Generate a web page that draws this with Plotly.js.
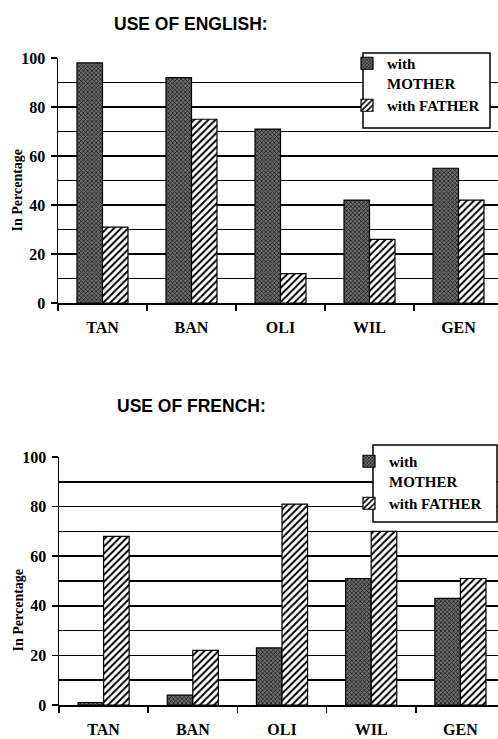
<!DOCTYPE html>
<html><head><meta charset="utf-8">
<script src="https://cdn.plot.ly/plotly-3.0.1.min.js"></script>
<style>html,body{margin:0;padding:0;overflow:hidden;background:#fff}#chart{width:505px;height:739px}</style>
</head><body><div id="chart"></div>
<script>
const categories = ['TAN','BAN','OLI','WIL','GEN'];
const englishMother = [98,92,71,42,55];
const englishFather = [31,75,12,26,42];
const frenchMother = [1,4,23,51,43];
const frenchFather = [68,22,81,70,51];
const seriesNames = ['with<br>MOTHER','with FATHER'];
const chartTitles = ['USE OF ENGLISH:','USE OF FRENCH:'];
const yTitle = 'In Percentage';

const W = 505, H = 739, L = 58;
const px = p => (p - L) / (W - L);
const py = p => 1 - p / H;
const serif = {family:'Liberation Serif, Times New Roman, serif', size:16, color:'#000', weight:'bold'};
const legendFont = {family:'Liberation Serif, Times New Roman, serif', size:15, color:'#000', weight:'bold'};

const motherMarker = {color:'#555', line:{color:'#000', width:1.2},
  pattern:{shape:'x', size:3, solidity:0.35, fgcolor:'#000', bgcolor:'#6e6e6e', fillmode:'replace'}};
const fatherMarker = {color:'#fff', line:{color:'#000', width:1.2},
  pattern:{shape:'/', size:5, solidity:0.4, fgcolor:'#000', bgcolor:'#fff', fillmode:'replace'}};

const traces = [
  {type:'bar', x:categories, y:englishMother, name:seriesNames[0], marker:motherMarker, xaxis:'x', yaxis:'y', legend:'legend'},
  {type:'bar', x:categories, y:englishFather, name:seriesNames[1], marker:fatherMarker, xaxis:'x', yaxis:'y', legend:'legend'},
  {type:'bar', x:categories, y:frenchMother, name:seriesNames[0], marker:motherMarker, xaxis:'x2', yaxis:'y2', legend:'legend2'},
  {type:'bar', x:categories, y:frenchFather, name:seriesNames[1], marker:fatherMarker, xaxis:'x2', yaxis:'y2', legend:'legend2'}
];

function xax(domain, anchor){
  return {domain:domain, anchor:anchor, type:'category', tickson:'boundaries', ticks:'outside', ticklen:6, tickwidth:1.5,
    tickcolor:'#000', showline:true, linecolor:'#000', linewidth:2, showgrid:false, tickfont:serif,
    ticklabelstandoff:9, fixedrange:true, automargin:false};
}
function yax(domain, anchor){
  return {domain:domain, anchor:anchor, range:[0,100], dtick:20, ticks:'outside', ticklen:6, tickwidth:1.5, tickcolor:'#000',
    showline:true, linecolor:'#000', linewidth:1.5, showgrid:true, gridcolor:'#000', gridwidth:1.5, zeroline:false,
    minor:{dtick:10, showgrid:true, gridcolor:'#000', gridwidth:1.5, ticks:''},
    tickfont:serif, ticklabelstandoff:2, fixedrange:true, automargin:false};
}

const legendBase = {xref:'paper', yref:'paper', xanchor:'left', yanchor:'top', bgcolor:'rgba(0,0,0,0)',
  borderwidth:0, font:legendFont, valign:'top', itemwidth:30, tracegroupgap:0};

const layout = {
  width:W, height:H, margin:{l:L, r:0, t:0, b:0, autoexpand:false}, paper_bgcolor:'#fff', plot_bgcolor:'#fff',
  barmode:'group', bargap:0.427, bargroupgap:0,
  xaxis: xax([px(58), px(503)], 'y'),
  yaxis: yax([py(303), py(58)], 'x'),
  xaxis2: xax([px(59), px(505)], 'y2'),
  yaxis2: yax([py(705), py(457)], 'x2'),
  legend: Object.assign({}, legendBase, {x:px(347), y:py(47)}),
  legend2: Object.assign({}, legendBase, {x:px(349), y:py(445)}),
  shapes:[
    {type:'rect', xref:'paper', yref:'paper', x0:px(363), x1:px(490), y0:py(128), y1:py(53), fillcolor:'#fff', line:{color:'#000', width:1.5}, layer:'above'},
    {type:'rect', xref:'paper', yref:'paper', x0:px(373), x1:px(497), y0:py(522), y1:py(445), fillcolor:'#fff', line:{color:'#000', width:1.5}, layer:'above'}
  ],
  annotations:[
    {text:chartTitles[0], xref:'paper', yref:'paper', x:px(191), y:py(24), xanchor:'center', yanchor:'middle', showarrow:false,
      font:{family:'Liberation Sans, Arial, sans-serif', size:17.5, color:'#000', weight:'bold'}},
    {text:chartTitles[1], xref:'paper', yref:'paper', x:px(191), y:py(406), xanchor:'center', yanchor:'middle', showarrow:false,
      font:{family:'Liberation Sans, Arial, sans-serif', size:17.5, color:'#000', weight:'bold'}},
    {text:yTitle, xref:'paper', yref:'paper', x:px(17.5), y:py(190), xanchor:'center', yanchor:'middle', textangle:-90, showarrow:false,
      font:{family:'Liberation Serif, Times New Roman, serif', size:14, color:'#000', weight:'bold'}},
    {text:yTitle, xref:'paper', yref:'paper', x:px(17.5), y:py(610), xanchor:'center', yanchor:'middle', textangle:-90, showarrow:false,
      font:{family:'Liberation Serif, Times New Roman, serif', size:14, color:'#000', weight:'bold'}}
  ]
};

Plotly.newPlot('chart', traces, layout, {displayModeBar:false, staticPlot:true});
</script>
</body></html>
